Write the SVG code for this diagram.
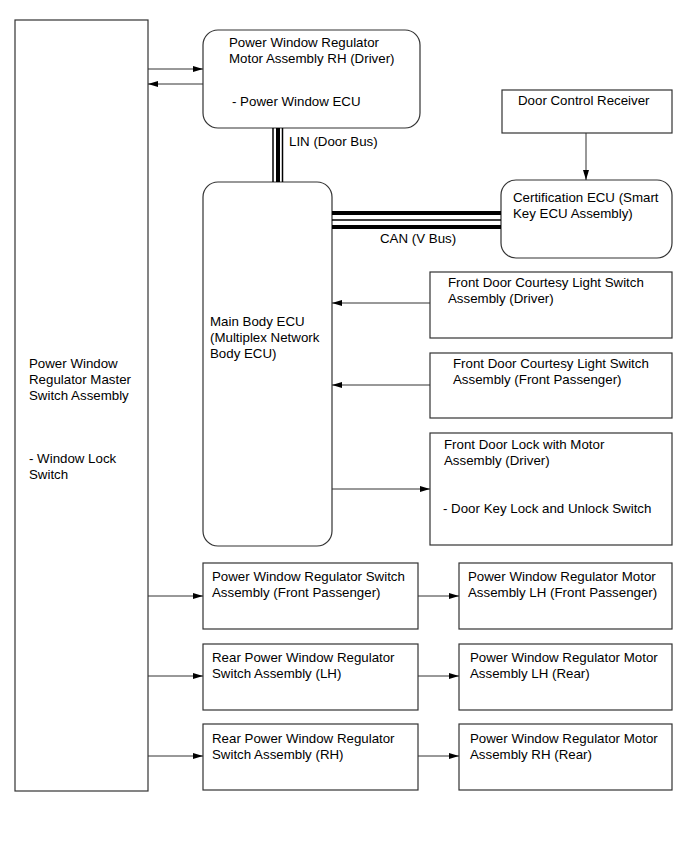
<svg xmlns="http://www.w3.org/2000/svg" width="689" height="854" viewBox="0 0 689 854">
<defs>
<marker id="ah" viewBox="0 0 10 6" refX="10" refY="3" markerWidth="10" markerHeight="6" markerUnits="userSpaceOnUse" orient="auto">
<path d="M0,0 L10,3 L0,6 Z" fill="#000"/>
</marker>
</defs>
<style>
.box{fill:#fff;stroke:#333;stroke-width:1.2}
.t{font-family:"Liberation Sans",Arial,sans-serif;font-size:13.3px;fill:#000}
.c{stroke:#333;stroke-width:1;fill:none;marker-end:url(#ah)}
.bus{stroke:#000;fill:none}
</style>
<rect width="689" height="854" fill="#fff"/>
<g id="master">
<rect class="box" x="15" y="20" width="133" height="771"/>
<text class="t" x="29" y="368">Power Window</text>
<text class="t" x="29" y="384">Regulator Master</text>
<text class="t" x="29" y="400">Switch Assembly</text>
<text class="t" x="29" y="463">- Window Lock</text>
<text class="t" x="29" y="479">Switch</text>
</g>
<g id="rh-driver">
<rect class="box" x="203" y="30" width="217" height="98" rx="15" ry="15"/>
<text class="t" x="229" y="47">Power Window Regulator</text>
<text class="t" x="229" y="63">Motor Assembly RH (Driver)</text>
<text class="t" x="232" y="106">- Power Window ECU</text>
</g>
<g id="main-body">
<rect class="box" x="203" y="182" width="129" height="364" rx="15" ry="15"/>
<text class="t" x="210" y="326">Main Body ECU</text>
<text class="t" x="210" y="342">(Multiplex Network</text>
<text class="t" x="210" y="358">Body ECU)</text>
</g>
<g id="door-control">
<rect class="box" x="502" y="90" width="170" height="43"/>
<text class="t" x="518" y="105">Door Control Receiver</text>
</g>
<g id="certification">
<rect class="box" x="501" y="180" width="171" height="78" rx="15" ry="15"/>
<text class="t" x="513" y="202">Certification ECU (Smart</text>
<text class="t" x="513" y="218">Key ECU Assembly)</text>
</g>
<g id="courtesy-driver">
<rect class="box" x="430" y="272" width="242" height="66"/>
<text class="t" x="448" y="287">Front Door Courtesy Light Switch</text>
<text class="t" x="448" y="303">Assembly (Driver)</text>
</g>
<g id="courtesy-passenger">
<rect class="box" x="430" y="353" width="242" height="65"/>
<text class="t" x="453" y="368">Front Door Courtesy Light Switch</text>
<text class="t" x="453" y="384">Assembly (Front Passenger)</text>
</g>
<g id="door-lock">
<rect class="box" x="430" y="433" width="242" height="112"/>
<text class="t" x="444" y="449">Front Door Lock with Motor</text>
<text class="t" x="444" y="465">Assembly (Driver)</text>
<text class="t" x="443" y="513">- Door Key Lock and Unlock Switch</text>
</g>
<g id="switch-front-passenger">
<rect class="box" x="203" y="563" width="215" height="66"/>
<text class="t" x="212" y="581">Power Window Regulator Switch</text>
<text class="t" x="212" y="597">Assembly (Front Passenger)</text>
</g>
<g id="motor-lh-front-passenger">
<rect class="box" x="459" y="563" width="213" height="66"/>
<text class="t" x="468" y="581">Power Window Regulator Motor</text>
<text class="t" x="468" y="597">Assembly LH (Front Passenger)</text>
</g>
<g id="rear-switch-lh">
<rect class="box" x="203" y="644" width="215" height="66"/>
<text class="t" x="212" y="662">Rear Power Window Regulator</text>
<text class="t" x="212" y="678">Switch Assembly (LH)</text>
</g>
<g id="motor-lh-rear">
<rect class="box" x="459" y="644" width="213" height="66"/>
<text class="t" x="470" y="662">Power Window Regulator Motor</text>
<text class="t" x="470" y="678">Assembly LH (Rear)</text>
</g>
<g id="rear-switch-rh">
<rect class="box" x="203" y="724" width="215" height="66"/>
<text class="t" x="212" y="743">Rear Power Window Regulator</text>
<text class="t" x="212" y="759">Switch Assembly (RH)</text>
</g>
<g id="motor-rh-rear">
<rect class="box" x="459" y="724" width="213" height="66"/>
<text class="t" x="470" y="743">Power Window Regulator Motor</text>
<text class="t" x="470" y="759">Assembly RH (Rear)</text>
</g>
<g id="connectors">
<line class="c" x1="148" y1="69" x2="203" y2="69"/>
<line class="c" x1="203" y1="84" x2="148" y2="84"/>
<line class="bus" x1="273" y1="128" x2="273" y2="182" stroke-width="1.5"/>
<line class="bus" x1="278" y1="128" x2="278" y2="182" stroke-width="4"/>
<line class="bus" x1="282.5" y1="128" x2="282.5" y2="182" stroke-width="1.5"/>
<text class="t" x="289" y="146">LIN (Door Bus)</text>
<line class="bus" x1="332" y1="213" x2="501" y2="213" stroke-width="4"/>
<line class="bus" x1="332" y1="220" x2="501" y2="220" stroke-width="1.5"/>
<line class="bus" x1="332" y1="227" x2="501" y2="227" stroke-width="4"/>
<text class="t" x="380" y="243">CAN (V Bus)</text>
<line class="c" x1="586" y1="133" x2="586" y2="180"/>
<line class="c" x1="430" y1="303" x2="332" y2="303"/>
<line class="c" x1="430" y1="385" x2="332" y2="385"/>
<line class="c" x1="332" y1="489" x2="430" y2="489"/>
<line class="c" x1="148" y1="596" x2="203" y2="596"/>
<line class="c" x1="418" y1="596" x2="459" y2="596"/>
<line class="c" x1="148" y1="676" x2="203" y2="676"/>
<line class="c" x1="418" y1="676" x2="459" y2="676"/>
<line class="c" x1="148" y1="756" x2="203" y2="756"/>
<line class="c" x1="418" y1="756" x2="459" y2="756"/>
</g>
</svg>
